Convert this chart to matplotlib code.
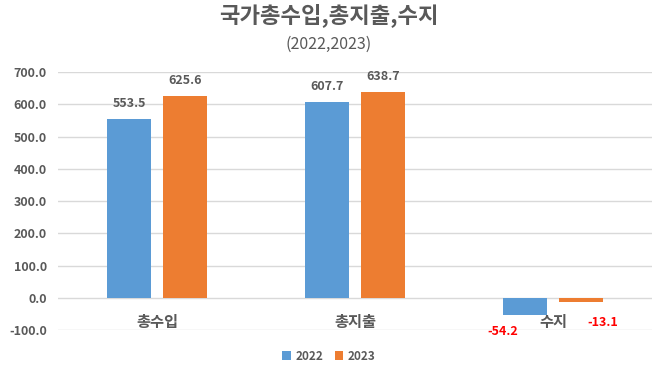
import numpy as np
import matplotlib
matplotlib.use("Agg")
import matplotlib.pyplot as plt

plt.rcParams['font.family'] = ['Noto Sans CJK KR', 'DejaVu Sans']

categories = ['총수입', '총지출', '수지']
years = ['2022', '2023']
vals_2022 = [553.5, 607.7, -54.2]
vals_2023 = [625.6, 638.7, -13.1]
yticks = [-100, 0, 100, 200, 300, 400, 500, 600, 700]

blue = '#5B9BD5'
orange = '#ED7D31'
gray = '#595959'

fig = plt.figure(figsize=(6.58, 3.69), dpi=100)
ax = fig.add_axes([0.088, 0.1057, 0.903, 0.699])

x = np.arange(len(categories))
w = 0.222
off = 0.141
b1 = ax.bar(x - off, vals_2022, w, color=blue, label=years[0], zorder=3)
b2 = ax.bar(x + off, vals_2023, w, color=orange, label=years[1], zorder=3)

ax.set_xlim(-0.5, 2.5)
ax.set_ylim(-100, 700)
ax.set_yticks(yticks)
ax.set_yticklabels(['%.1f' % t for t in yticks], fontsize=9, fontweight='bold', color=gray)
ax.set_xticks([])
ax.tick_params(axis='y', length=0, pad=8)
ax.grid(axis='y', color='#D9D9D9', linewidth=1, zorder=0)
for s in ax.spines.values():
    s.set_visible(False)

# data labels (negative ones sit beside the bars, as in the original)
for bars, vals, dx, dy in ((b1, vals_2022, -16, -7), (b2, vals_2023, 16, -10)):
    for bar, v in zip(bars, vals):
        cx = bar.get_x() + bar.get_width() / 2
        if v >= 0:
            ax.annotate('%.1f' % v, (cx, v), xytext=(0, 6.5), textcoords='offset points',
                        ha='center', va='bottom', fontsize=9, fontweight='bold', color=gray)
        else:
            ax.annotate('%.1f' % v, (cx, v), xytext=(dx, dy), textcoords='offset points',
                        ha='center', va='top', fontsize=9, fontweight='bold', color='#FF0000')

# category labels just below zero line
for xi, c in zip(x, categories):
    ax.annotate(c, (xi, 0), xytext=(0, -12), textcoords='offset points',
                ha='center', va='top', fontsize=11, fontweight='bold', color=gray)

fig.text(0.5, 0.958, '국가총수입,총지출,수지', ha='center', va='center',
         fontsize=16, fontweight='bold', color=gray)
fig.text(0.5, 0.88, '(2022,2023)', ha='center', va='center', fontsize=11.5, color=gray)

leg = fig.legend(handles=[b1, b2], loc='center', bbox_to_anchor=(0.5, 0.035), ncol=2,
                 frameon=False, fontsize=8.5, handlelength=0.7, handleheight=0.7,
                 handletextpad=0.4, columnspacing=1.0)
for t in leg.get_texts():
    t.set_color(gray)
    t.set_fontweight('bold')

fig.savefig('out.png', dpi=100)
